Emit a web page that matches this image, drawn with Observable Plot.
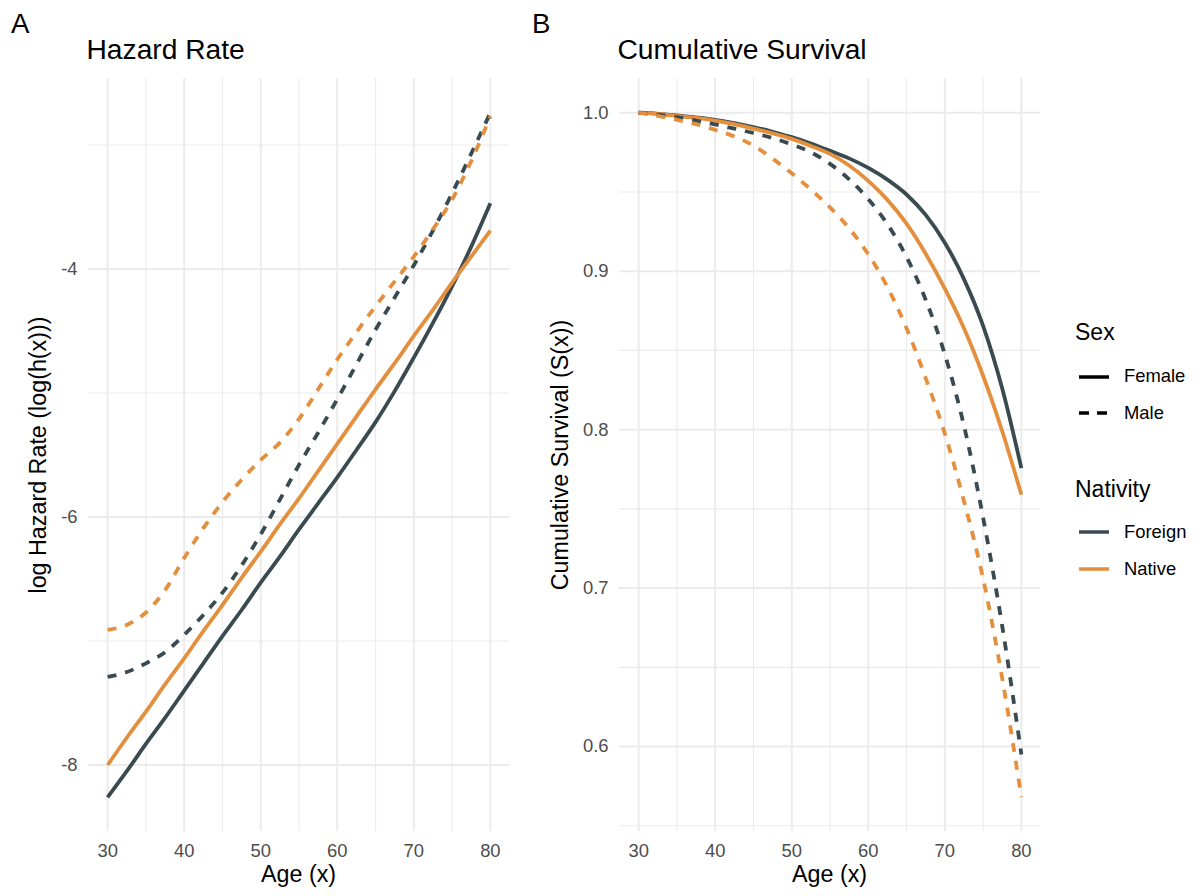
<!DOCTYPE html>
<html>
<head>
<meta charset="utf-8">
<script src="https://cdn.jsdelivr.net/npm/d3@7"></script>
<script src="https://cdn.jsdelivr.net/npm/@observablehq/plot@0.6"></script>
<style>
  body { margin: 0; background: #ffffff; font-family: "Liberation Sans", Arial, Helvetica, sans-serif; }
  #fig { position: relative; width: 1200px; height: 896px; overflow: hidden; background: #ffffff; }
  .t { position: absolute; white-space: nowrap; line-height: 1; color: #000000; }
  .tag { font-size: 27.6px; }
  .ttl { font-size: 28.2px; }
  .axt { font-size: 23.3px; }
  .legt { font-size: 23px; }
  .legl { font-size: 18.4px; }
  .rot { transform: translate(-50%, -50%) rotate(-90deg); }
  .cx { transform: translateX(-50%); }
  svg.key { position: absolute; overflow: visible; }
</style>
</head>
<body>
<div id="fig"></div>
<script>
// ---------------- data ----------------
const ages = [30, 32.5, 35, 37.5, 40, 42.5, 45, 47.5, 50, 52.5, 55, 57.5, 60, 62.5, 65, 67.5, 70, 72.5, 75, 77.5, 80];

// log hazard rate, log(h(x))
const hazardFemaleForeign = [-8.26, -8.05, -7.83, -7.62, -7.40, -7.18, -6.96, -6.75, -6.53, -6.32, -6.10, -5.89, -5.68, -5.46, -5.235, -4.985, -4.715, -4.435, -4.14, -3.82, -3.47];
const hazardFemaleNative  = [-8.00, -7.78, -7.57, -7.35, -7.14, -6.92, -6.71, -6.49, -6.28, -6.06, -5.85, -5.63, -5.41, -5.19, -4.97, -4.76, -4.54, -4.33, -4.11, -3.90, -3.69];
const hazardMaleForeign   = [-7.29, -7.25, -7.18, -7.09, -6.95, -6.79, -6.61, -6.39, -6.14, -5.86, -5.58, -5.32, -5.05, -4.77, -4.49, -4.23, -3.97, -3.69, -3.39, -3.07, -2.74];
const hazardMaleNative    = [-6.91, -6.87, -6.77, -6.59, -6.33, -6.09, -5.88, -5.70, -5.54, -5.40, -5.21, -4.97, -4.73, -4.51, -4.30, -4.10, -3.90, -3.68, -3.44, -3.13, -2.77];

// cumulative survival, S(x)
const survivalFemaleForeign = [1.000, 0.9993, 0.9983, 0.9970, 0.9955, 0.9935, 0.9910, 0.9880, 0.9846, 0.9806, 0.9760, 0.9712, 0.9652, 0.9578, 0.9484, 0.9355, 0.9180, 0.8950, 0.8655, 0.8260, 0.7757];
const survivalFemaleNative  = [1.000, 0.9992, 0.9980, 0.9967, 0.9950, 0.9928, 0.9900, 0.9870, 0.9835, 0.9790, 0.9740, 0.9667, 0.9570, 0.9450, 0.9300, 0.9110, 0.8890, 0.8640, 0.8340, 0.7990, 0.7590];
const survivalMaleForeign   = [1.000, 0.9988, 0.9972, 0.9950, 0.9926, 0.9900, 0.9872, 0.9840, 0.9800, 0.9750, 0.9677, 0.9580, 0.9455, 0.9297, 0.9090, 0.8820, 0.8475, 0.8025, 0.7445, 0.6760, 0.5950];
const survivalMaleNative    = [1.000, 0.9980, 0.9955, 0.9928, 0.9892, 0.9850, 0.9793, 0.9710, 0.9618, 0.9515, 0.9403, 0.9270, 0.9107, 0.8900, 0.8640, 0.8325, 0.7975, 0.7550, 0.7060, 0.6430, 0.5680];

const sexes = ["Female", "Male"];
const nativities = ["Foreign", "Native"];
const nativityColors = ["#394a50", "#e38f3d"];

const ageTicksMajor = [30, 40, 50, 60, 70, 80];
const ageTicksMinor = [35, 45, 55, 65, 75];
const hazardTicksMajor = [-8, -6, -4];
const hazardTicksMinor = [-7, -5, -3];
const survivalTicksMajor = [0.6, 0.7, 0.8, 0.9, 1.0];
const survivalTicksMinor = [0.55, 0.65, 0.75, 0.85, 0.95];

// ---------------- tidy rows ----------------
const series = [
  {sex: "Female", nativity: "Foreign", hazard: hazardFemaleForeign, survival: survivalFemaleForeign},
  {sex: "Female", nativity: "Native",  hazard: hazardFemaleNative,  survival: survivalFemaleNative},
  {sex: "Male",   nativity: "Foreign", hazard: hazardMaleForeign,   survival: survivalMaleForeign},
  {sex: "Male",   nativity: "Native",  hazard: hazardMaleNative,    survival: survivalMaleNative}
];
const hazardRows = series.flatMap(s => ages.map((a, i) => ({age: a, sex: s.sex, nativity: s.nativity, value: s.hazard[i]})));
const survivalRows = series.flatMap(s => ages.map((a, i) => ({age: a, sex: s.sex, nativity: s.nativity, value: s.survival[i]})));

function pad(lo, hi) { const e = (hi - lo) * 0.05; return [lo - e, hi + e]; }

const FONT = '"Liberation Sans", Arial, Helvetica, sans-serif';
const GRID = "#ebebeb";
const DASH = "9,9";
const LW = 3.8;

function panel(rows, yMajor, yMinor, fmt) {
  const ext = d3.extent(rows, d => d.value);
  return Plot.plot({
    width: 525,
    height: 896,
    marginLeft: 88,
    marginRight: 16,
    marginTop: 78,
    marginBottom: 65,
    style: {background: "transparent", fontFamily: FONT, fontSize: "18.4px", color: "#4d4d4d", overflow: "visible"},
    x: {domain: pad(30, 80), label: null},
    y: {domain: pad(ext[0], ext[1]), label: null},
    color: {domain: nativities, range: nativityColors},
    marks: [
      Plot.gridX(ageTicksMinor, {stroke: GRID, strokeOpacity: 1, strokeWidth: 1.1}),
      Plot.gridY(yMinor, {stroke: GRID, strokeOpacity: 1, strokeWidth: 1.1}),
      Plot.gridX(ageTicksMajor, {stroke: GRID, strokeOpacity: 1, strokeWidth: 2}),
      Plot.gridY(yMajor, {stroke: GRID, strokeOpacity: 1, strokeWidth: 2}),
      Plot.axisX(ageTicksMajor, {tickSize: 0, tickPadding: 12.6, label: null, fill: "#4d4d4d", fontSize: 18.4}),
      Plot.axisY(yMajor, {tickSize: 0, tickPadding: 11, label: null, tickFormat: fmt, fill: "#4d4d4d", fontSize: 18.4}),
      Plot.line(rows.filter(d => d.sex === "Female"), {
        x: "age", y: "value", z: "nativity", stroke: "nativity",
        strokeWidth: LW, strokeLinecap: "butt", strokeLinejoin: "round", curve: "monotone-x"
      }),
      Plot.line(rows.filter(d => d.sex === "Male"), {
        x: "age", y: "value", z: "nativity", stroke: "nativity",
        strokeWidth: LW, strokeLinecap: "butt", strokeLinejoin: "round", strokeDasharray: DASH, curve: "monotone-x"
      })
    ]
  });
}

const fig = document.getElementById("fig");

const plotA = panel(hazardRows, hazardTicksMajor, hazardTicksMinor, d => String(d));
plotA.style.position = "absolute"; plotA.style.left = "0px"; plotA.style.top = "0px";
fig.appendChild(plotA);

const plotB = panel(survivalRows, survivalTicksMajor, survivalTicksMinor, d => d.toFixed(1));
plotB.style.position = "absolute"; plotB.style.left = "531px"; plotB.style.top = "0px";
fig.appendChild(plotB);

function text(str, cls, left, top) {
  const el = document.createElement("div");
  el.className = "t " + cls;
  el.textContent = str;
  el.style.left = left + "px";
  el.style.top = top + "px";
  fig.appendChild(el);
  return el;
}

// tags and titles
text("A", "tag", 11, 10);
text("B", "tag", 532, 10);
text("Hazard Rate", "ttl", 86.5, 34.5);
text("Cumulative Survival", "ttl", 617.5, 34.5);

// axis titles
text("Age (x)", "axt cx", 298.5, 862.5);
text("Age (x)", "axt cx", 829.5, 862.5);
text("log Hazard Rate (log(h(x)))", "axt rot", 38.5, 454.5);
text("Cumulative Survival (S(x))", "axt rot", 560.5, 454.5);

// legend
function key(x, y, color, dash) {
  const ns = "http://www.w3.org/2000/svg";
  const s = document.createElementNS(ns, "svg");
  s.setAttribute("class", "key");
  s.setAttribute("width", 30);
  s.setAttribute("height", 8);
  s.style.left = x + "px";
  s.style.top = (y - 4) + "px";
  const l = document.createElementNS(ns, "line");
  l.setAttribute("x1", 0); l.setAttribute("x2", 30);
  l.setAttribute("y1", 4); l.setAttribute("y2", 4);
  l.setAttribute("stroke", color);
  l.setAttribute("stroke-width", 3.5);
  if (dash) l.setAttribute("stroke-dasharray", dash);
  s.appendChild(l);
  fig.appendChild(s);
}
text("Sex", "legt", 1075, 321);
key(1079, 377, "#000000", null);
text(sexes[0], "legl", 1124, 367);
key(1079, 413, "#000000", "10,8");
text(sexes[1], "legl", 1124, 404);

text("Nativity", "legt", 1075, 478);
key(1079, 532, nativityColors[0], null);
text(nativities[0], "legl", 1124, 523);
key(1079, 569, nativityColors[1], null);
text(nativities[1], "legl", 1124, 560);
</script>
</body>
</html>
